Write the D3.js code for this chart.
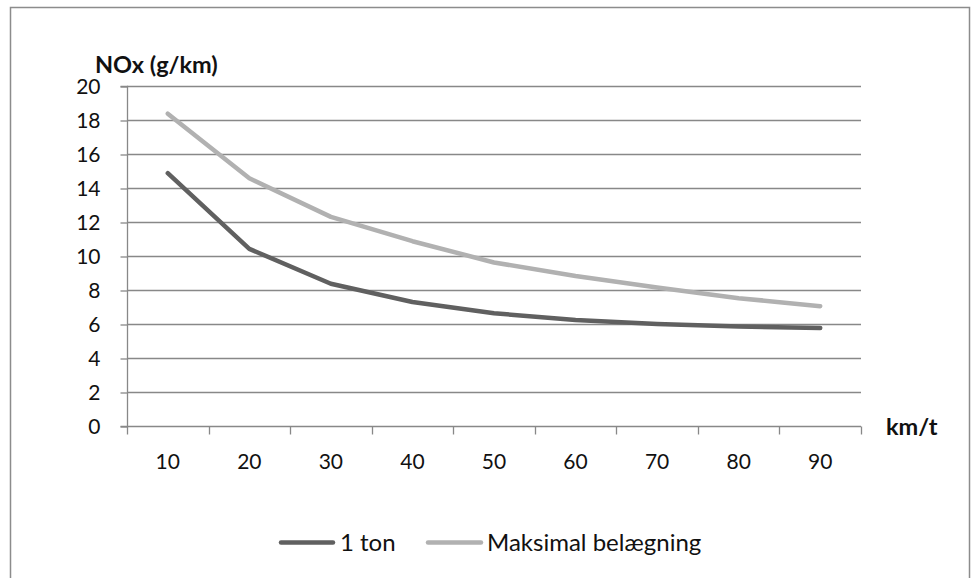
<!DOCTYPE html>
<html>
<head>
<meta charset="utf-8">
<script src="https://cdn.jsdelivr.net/npm/d3@7"></script>
<style>
  html, body { margin: 0; padding: 0; background: #fff; }
  svg { display: block; font-family: Lato, "Open Sans", "Liberation Sans", sans-serif; }
</style>
</head>
<body>
<svg id="chart" width="973" height="578"></svg>
<script>
// Speed categories (km/t)
const speeds = [10, 20, 30, 40, 50, 60, 70, 80, 90];
// NOx emission (g/km) per load case
const oneTon = [14.9, 10.45, 8.4, 7.32, 6.66, 6.27, 6.03, 5.88, 5.8];
const maxLoad = [18.4, 14.6, 12.33, 10.9, 9.65, 8.85, 8.18, 7.55, 7.08];
const yTicks = [0, 2, 4, 6, 8, 10, 12, 14, 16, 18, 20];
const seriesNames = ["1 ton", "Maksimal belægning"];
const seriesColors = ["#606060", "#b1b1b1"];

const svg = d3.select("#chart");
const gridColor = "#888888";

// Outer frame
svg.append("rect")
  .attr("x", 10.5).attr("y", 7.5).attr("width", 959).attr("height", 600)
  .attr("fill", "none").attr("stroke", "#8c8c8c").attr("stroke-width", 1.5);

const plotLeft = 127, plotRight = 861, plotTop = 86.5, plotBottom = 426.5;

const x = d3.scaleBand().domain(speeds).range([plotLeft, plotRight]).paddingInner(0).paddingOuter(0);
const y = d3.scaleLinear().domain([0, 20]).range([plotBottom, plotTop]);

// Horizontal gridlines
svg.append("g")
  .selectAll("line")
  .data(yTicks.filter(d => d > 0))
  .join("line")
  .attr("x1", plotLeft).attr("x2", plotRight)
  .attr("y1", d => y(d)).attr("y2", d => y(d))
  .attr("stroke", gridColor).attr("stroke-width", 1.3);

// Y axis
const yAxis = d3.axisLeft(y).tickValues(yTicks).tickSize(7).tickPadding(20).tickFormat(d3.format("d"));
const gy = svg.append("g").attr("transform", `translate(${plotLeft + 0.5},0)`).call(yAxis);
gy.attr("font-family", null).attr("font-size", null);
gy.select(".domain").attr("stroke", gridColor).attr("stroke-width", 1.3)
  .attr("d", `M-7,${plotTop}H0V${plotBottom}H-7`);
gy.selectAll(".tick line").attr("stroke", gridColor).attr("stroke-width", 1.3);
gy.selectAll(".tick text").attr("font-size", 21).attr("fill", "#111");

// X axis: ticks at category boundaries, labels centred in each category
const gx = svg.append("g").attr("transform", `translate(0,${plotBottom})`);
gx.append("line").attr("x1", plotLeft).attr("x2", plotRight).attr("y1", 0).attr("y2", 0)
  .attr("stroke", gridColor).attr("stroke-width", 1.3);
const bounds = speeds.map(d => x(d)).concat([plotRight]);
gx.selectAll("line.tick").data(bounds).join("line").attr("class", "tick")
  .attr("x1", d => Math.round(d) + 0.5).attr("x2", d => Math.round(d) + 0.5)
  .attr("y1", 0).attr("y2", 8)
  .attr("stroke", gridColor).attr("stroke-width", 1.3);
gx.selectAll("text").data(speeds).join("text")
  .attr("x", d => x(d) + x.bandwidth() / 2).attr("y", 42.5)
  .attr("text-anchor", "middle").attr("font-size", 21).attr("fill", "#111")
  .text(d => d);

// Axis titles
svg.append("text").attr("x", 95).attr("y", 73).attr("font-size", 23.5).attr("font-weight", "bold")
  .attr("fill", "#111").text("NOx (g/km)");
svg.append("text").attr("x", 886).attr("y", 435).attr("font-size", 23.5).attr("font-weight", "bold")
  .attr("fill", "#111").text("km/t");

// Lines
const line = d3.line()
  .x((d, i) => x(speeds[i]) + x.bandwidth() / 2)
  .y(d => y(d));

[oneTon, maxLoad].forEach((vals, i) => {
  svg.append("path").datum(vals)
    .attr("d", line)
    .attr("fill", "none")
    .attr("stroke", seriesColors[i])
    .attr("stroke-width", 4.5)
    .attr("stroke-linecap", "round")
    .attr("stroke-linejoin", "round");
});

// Legend
const legendItems = [
  { x1: 281, x2: 333, tx: 340 },
  { x1: 428, x2: 481, tx: 487 }
];
legendItems.forEach((it, i) => {
  svg.append("line").attr("x1", it.x1).attr("x2", it.x2).attr("y1", 542.5).attr("y2", 542.5)
    .attr("stroke", seriesColors[i]).attr("stroke-width", 4.5).attr("stroke-linecap", "round");
  svg.append("text").attr("x", it.tx).attr("y", 551).attr("font-size", 24).attr("fill", "#111")
    .text(seriesNames[i]);
});
</script>
</body>
</html>
